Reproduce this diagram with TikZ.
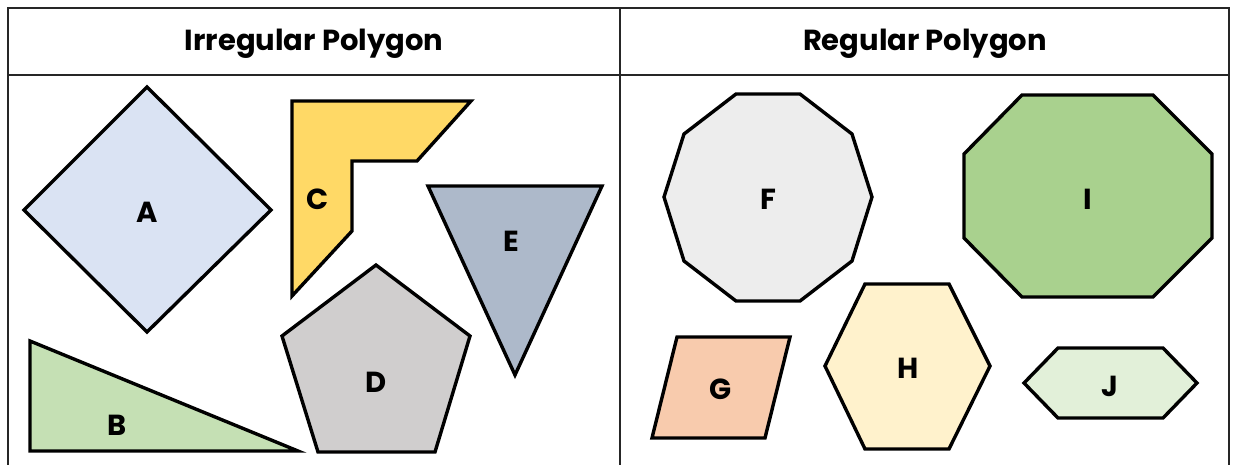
\documentclass[tikz,border=0pt]{standalone}
\usepackage{fontspec}
\setmainfont{Poppins}
\definecolor{cA}{HTML}{DAE3F3}
\definecolor{cB}{HTML}{C5E0B4}
\definecolor{cC}{HTML}{FFD966}
\definecolor{cD}{HTML}{D0CECE}
\definecolor{cE}{HTML}{ADB9CA}
\definecolor{cF}{HTML}{EDEDED}
\definecolor{cG}{HTML}{F8CBAD}
\definecolor{cH}{HTML}{FFF2CC}
\definecolor{cI}{HTML}{A9D18E}
\definecolor{cJ}{HTML}{E2F0D9}
\tikzset{
  shp/.style={draw=black, line width=3.4pt, line join=miter},
  frame/.style={draw=black!85, line width=2pt},
  lbl/.style={font=\bfseries\fontsize{29}{31}\selectfont, inner sep=0pt, anchor=center},
  hdr/.style={font=\bfseries\fontsize{29}{31}\selectfont, inner sep=0pt, anchor=center}
}
\begin{document}
\begin{tikzpicture}[x=1pt,y=-1pt]
\useasboundingbox (0,0) rectangle (1235,464);
% frame
\draw[frame] (8,470) -- (8,8) -- (1229,8) -- (1229,470);
\draw[frame] (8,75) -- (1229,75);
\draw[frame] (620,8) -- (620,470);
\node[hdr] (h1) at (314,44) {Irregular Polygon};
\node[hdr] (h2) at (925,44) {Regular Polygon};
% A
\filldraw[shp, fill=cA] (147,87) -- (271,210) -- (147,332) -- (24,210) -- cycle;
\node[lbl] (A) at (147,212) {A};
% B
\filldraw[shp, fill=cB] (30,341) -- (298,451) -- (30,451) -- cycle;
\node[lbl] (B) at (117,425) {B};
% C
\filldraw[shp, fill=cC] (292,101) -- (471,101) -- (417,161) -- (352,161) -- (352,231) -- (292,296) -- cycle;
\node[lbl] (C) at (318,199) {C};
% D
\filldraw[shp, fill=cD] (376,265) -- (470,336) -- (435,452) -- (318,452) -- (282,336) -- cycle;
\node[lbl] (D) at (376,382) {D};
% E
\filldraw[shp, fill=cE] (428,186) -- (602,186) -- (515,375) -- cycle;
\node[lbl] (E) at (511,241) {E};
% F
\filldraw[shp, fill=cF] (736,94) -- (800,94) -- (852,134) -- (872,197) -- (852,261) -- (800,301) -- (736,301) -- (684,261) -- (664,197) -- (684,134) -- cycle;
\node[lbl] (F) at (768,199) {F};
% I
\filldraw[shp, fill=cI] (1022,95) -- (1153,95) -- (1212,154) -- (1212,238) -- (1153,297) -- (1022,297) -- (964,238) -- (964,154) -- cycle;
\node[lbl] (I) at (1088,199) {I};
% G
\filldraw[shp, fill=cG] (677,337) -- (790,337) -- (765,438) -- (652,438) -- cycle;
\node[lbl] (G) at (721,389) {G};
% H
\filldraw[shp, fill=cH] (865,284) -- (949,284) -- (990,366) -- (949,449) -- (865,449) -- (825,366) -- cycle;
\node[lbl] (H) at (908,368) {H};
% J
\filldraw[shp, fill=cJ] (1058,348) -- (1163,348) -- (1197,383) -- (1163,418) -- (1058,418) -- (1024,383) -- cycle;
\node[lbl] (J) at (1110,386) {J};
\end{tikzpicture}
\end{document}
